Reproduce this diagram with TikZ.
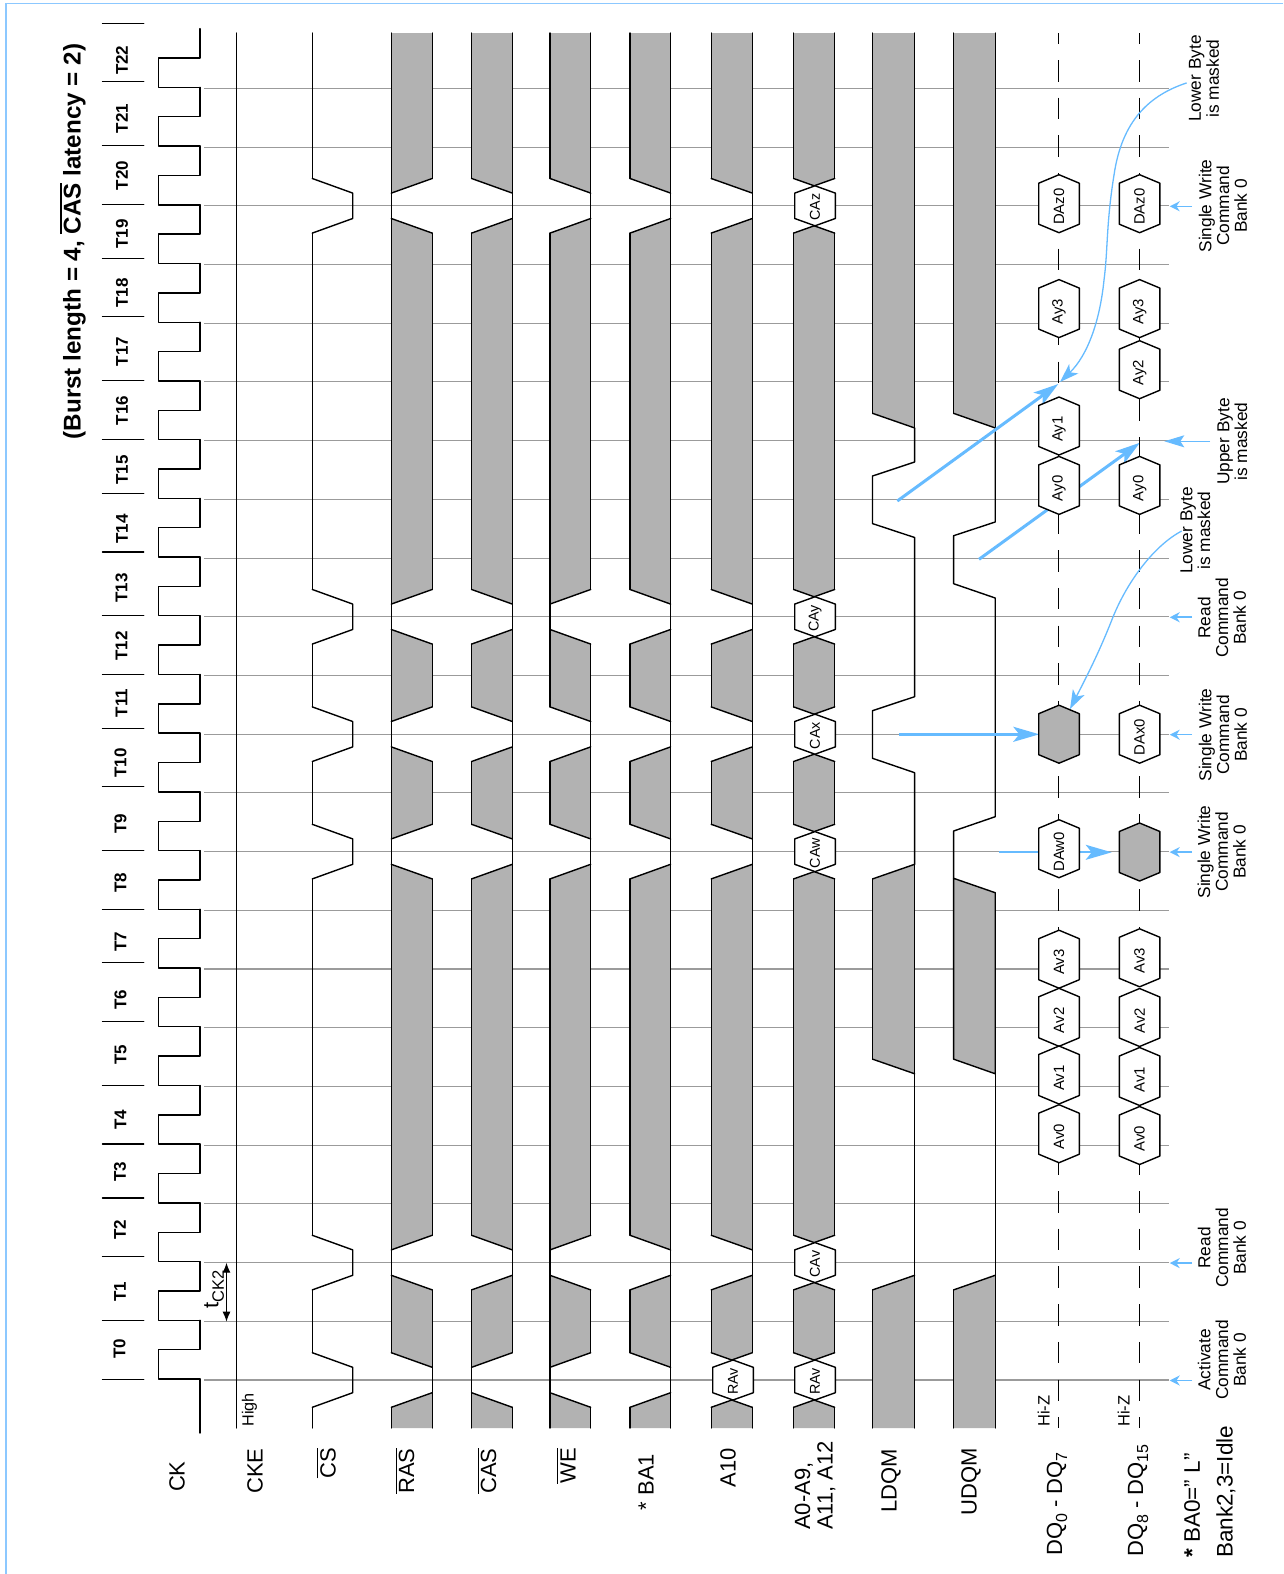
\documentclass[tikz,border=0pt]{standalone}
\usepackage{fontspec}
\setmainfont{Liberation Sans}
\usetikzlibrary{arrows.meta}
\definecolor{bluearrow}{RGB}{102,187,255}
\definecolor{framec}{RGB}{140,200,255}
\definecolor{sigfill}{RGB}{178,178,178}
\definecolor{gridc}{RGB}{155,155,155}
\newcommand\fs[1]{\fontsize{#1}{#1}\selectfont}
\newcommand\ovl[2][0.9pt]{\leavevmode\vbox{\hrule height #1\kern 2.2pt\hbox{#2}}}
\newcommand\upperY[2]{%
 \ifnum#1>22 \def\yUL{33}\def\yUM{33}\def\yUR{33}\else
 \pgfmathsetmacro\myYb{yk(#1)}%
 \ifcase#2
  \pgfmathsetmacro\yUL{\myYb+12.7}\pgfmathsetmacro\yUR{\myYb+27.3}\pgfmathsetmacro\yUM{\myYb+20}%
 \or
  \pgfmathsetmacro\yUL{\myYb+27.3}\pgfmathsetmacro\yUR{\myYb+12.7}\pgfmathsetmacro\yUM{\myYb+20}%
 \or
  \pgfmathsetmacro\yUL{\myYb+27.3}\pgfmathsetmacro\yUR{\myYb+27.3}\pgfmathsetmacro\yUM{\myYb+20}%
 \fi\fi}
\newcommand\lowerY[2]{%
 \ifnum#1<0 \def\yLL{1428}\def\yLM{1428}\def\yLR{1428}\else
 \pgfmathsetmacro\myYb{yk(#1)}%
 \ifcase#2
  \pgfmathsetmacro\yLL{\myYb-12.7}\pgfmathsetmacro\yLR{\myYb-27.3}\pgfmathsetmacro\yLM{\myYb-20}%
 \or
  \pgfmathsetmacro\yLL{\myYb-27.3}\pgfmathsetmacro\yLR{\myYb-12.7}\pgfmathsetmacro\yLM{\myYb-20}%
 \or
  \pgfmathsetmacro\yLL{\myYb-27.3}\pgfmathsetmacro\yLR{\myYb-27.3}\pgfmathsetmacro\yLM{\myYb-20}%
 \fi\fi}
% L R kUpper sideUpper kLower sideLower (side 0 left tip, 1 right tip, 2 hexagon)
\newcommand\graySeg[6]{%
 \upperY{#3}{#4}\lowerY{#5}{#6}%
 \pgfmathsetmacro\xM{(#1+#2)/2}%
 \fill[sigfill] (#1,\yUL)--(\xM,\yUM)--(#2,\yUR)--(#2,\yLR)--(\xM,\yLM)--(#1,\yLL)--cycle;
 \draw[sigline] (#1,\yUL)--(#1,\yLL) (#2,\yUR)--(#2,\yLR);
 \ifnum#3<23 \draw[sigline] (#1,\yUL)--(\xM,\yUM)--(#2,\yUR);\fi
 \ifnum#5>-1 \draw[sigline] (#1,\yLL)--(\xM,\yLM)--(#2,\yLR);\fi}
\newcommand\tipIf[4]{%
 \ifcase#4
  \draw[sigline] (#1,{yk(#3)+12.7})--(#1,{yk(#3)-12.7});
 \or
  \draw[sigline] (#2,{yk(#3)+12.7})--(#2,{yk(#3)-12.7});
 \fi}
% L R s0 s2 s9 s11 s13 s20
\newcommand\sigRow[8]{%
 \graySeg{#1}{#2}{23}{0}{20}{#8}\graySeg{#1}{#2}{20}{#8}{13}{#7}%
 \graySeg{#1}{#2}{13}{#7}{11}{#6}\graySeg{#1}{#2}{11}{#6}{9}{#5}%
 \graySeg{#1}{#2}{9}{#5}{2}{#4}\graySeg{#1}{#2}{2}{#4}{0}{#3}%
 \graySeg{#1}{#2}{0}{#3}{-1}{0}%
 \tipIf{#1}{#2}{0}{#3}\tipIf{#1}{#2}{2}{#4}\tipIf{#1}{#2}{9}{#5}%
 \tipIf{#1}{#2}{11}{#6}\tipIf{#1}{#2}{13}{#7}\tipIf{#1}{#2}{20}{#8}}
% name k xmid text
\newcommand\ahex[4]{%
 \draw[sigline,fill=white] ({#3-20.3},{yk(#2)+12.7})--(#3,{yk(#2)+20})--({#3+20.3},{yk(#2)+12.7})--({#3+20.3},{yk(#2)-12.7})--(#3,{yk(#2)-20})--({#3-20.3},{yk(#2)-12.7})--cycle;
 \node[hextext,font=\fs{14.3}] (#1) at (#3,{yk(#2)+1.5}) {#4};}
% name xmid ycentre fill text
\newcommand\dhex[5]{%
 \draw[sigline,fill=#4] ({#2-20.3},{#3+20.5})--(#2,{#3+29})--({#2+20.3},{#3+20.5})--({#2+20.3},{#3-20.5})--(#2,{#3-29})--({#2-20.3},{#3-20.5})--cycle;
 \node[hextext,font=\fs{14.9}] (#1) at (#2,{#3+3}) {#5};}
\begin{document}
\begin{tikzpicture}[x=1pt,y=-1pt,
 declare function={yk(\k)=1380-58.71*\k;},
 sigline/.style={black,line width=1.4pt,line cap=round,line join=round},
 gridl/.style={gridc,line width=1.1pt},
 hextext/.style={rotate=90,inner sep=0pt},
 lab/.style={rotate=90,inner sep=0pt,font=\fs{22}},
 cmd/.style={rotate=90,inner sep=0pt,align=center,font=\fontsize{17.3}{17.8}\selectfont},
 tlab/.style={rotate=90,inner sep=0pt,font=\fs{17}\bfseries},
 bsmall/.style={bluearrow,line width=1.6pt,-{Stealth[length=10pt,width=10pt]}},
 bcurve/.style={bluearrow,line width=1.3pt,-{Stealth[length=19pt,width=13pt,inset=5pt]}},
 bthick/.style={bluearrow,line width=3pt,-{Stealth[length=25pt,width=15pt,inset=6pt]}},
 bmid/.style={bluearrow,line width=2.2pt,-{Stealth[length=26pt,width=15pt,inset=6pt]}},
]
\useasboundingbox (0,0) rectangle (1283,1574);
\fill[white] (0,0) rectangle (1283,1574);
% frame
\draw[framec,line width=1.5pt] (6,1574)--(6,3.7)--(1283,3.7);
% grid
\foreach \k in {0,...,22} \draw[gridl] (204,{yk(\k)})--(1168.7,{yk(\k)});
% ticks
\foreach \y in {23.3,81.7,145.7,204.3,258.3,316.7,380.7,439.3,493.3,552,615.3,674.3,728.3,786.7,850.7,909.3,962.7,1021.7,1085.3,1144,1198,1256.7,1320.7,1379.3}
 \draw[sigline] (102.5,\y)--(143.7,\y);
% CK
\draw[sigline] (200,1433)--(200,1379);
\foreach \k in {0,...,22}
 \draw[sigline] (200,{yk(\k)-1})--(158.5,{yk(\k)-1})--(158.5,{yk(\k)-30.35})--(200,{yk(\k)-30.35})--(200,{yk(\k+1)-1});
% CKE
\draw[sigline] (236.6,33)--(236.6,1428);
% CS
\draw[sigline] (312.3,33)--(312.3,{yk(20)-27.3});
\foreach \k in {20,13,11,9,2,0}
 \draw[sigline] (312.3,{yk(\k)-27.3})--(352.7,{yk(\k)-12.7})--(352.7,{yk(\k)+12.7})--(312.3,{yk(\k)+27.3});
\foreach \a/\b in {20/13,13/11,11/9,9/2,2/0}
 \draw[sigline] (312.3,{yk(\a)+27.3})--(312.3,{yk(\b)-27.3});
\draw[sigline] (312.3,{yk(0)+27.3})--(312.3,1428);
% control signals
\sigRow{391.3}{432.2}{1}{0}{0}{0}{0}{0}
\sigRow{471.6}{512.3}{0}{1}{1}{1}{1}{1}
\sigRow{550}{590.7}{0}{0}{1}{1}{0}{1}
\sigRow{630}{670.6}{1}{1}{1}{1}{1}{1}
\sigRow{711.2}{752.3}{2}{1}{1}{1}{1}{1}
\sigRow{793.6}{834.7}{2}{2}{2}{2}{2}{2}
\ahex{ra10}{0}{733}{RAv}
\ahex{ra0}{0}{815}{RAv}
\ahex{cav}{2}{815}{CAv}
\ahex{caw}{9}{815}{CAw}
\ahex{cax}{11}{815}{CAx}
\ahex{cay}{13}{815}{CAy}
\ahex{caz}{20}{815}{CAz}
% LDQM
\graySeg{872.6}{914.6}{23}{0}{16}{1}
\graySeg{872.6}{914.6}{9}{1}{5}{1}
\graySeg{872.6}{914.6}{2}{1}{-1}{0}
\draw[sigline] (914.6,{yk(2)+12.7})--(914.6,{yk(5)-12.7});
\draw[sigline] (914.6,{yk(9)+12.7})--(914.6,772.7)--(872.5,758.3)--(872.5,710.7)--(914.6,696.7)--(914.6,537.5)--(872.5,523.6)--(872.5,476)--(914.6,462)--(914.6,{yk(16)-12.7});
% UDQM
\graySeg{953.6}{995.2}{23}{0}{16}{1}
\fill[sigfill] (953.6,878.3)--(995.2,892.7)--(995.2,{yk(5)-12.7})--(953.6,{yk(5)-27.3})--cycle;
\draw[sigline] (953.6,{yk(5)-27.3})--(953.6,878.3)--(995.2,892.7)--(995.2,{yk(5)-12.7})--cycle;
\graySeg{953.6}{995.2}{2}{1}{-1}{0}
\draw[sigline] (995.2,{yk(2)+12.7})--(995.2,{yk(5)-12.7});
\draw[sigline] (953.6,878.3)--(953.6,831)--(995.2,816.7)--(995.2,598)--(953.6,583.7)--(953.6,535.7)--(995.2,522)--(995.2,{yk(16)-12.7});
% thick blue arrows (under the data hexagons)
\coordinate (a1s) at (897.3,501);  \coordinate (a1e) at (1058.3,384);
\coordinate (a2s) at (979,559.3);  \coordinate (a2e) at (1140,442.7);
\coordinate (a3s) at (899.3,734.3); \coordinate (a3e) at (1039.3,734.3);
\coordinate (a4s) at (999,852.3);  \coordinate (a4e) at (1111.7,852.3);
\draw[bthick] (a1s)--(a1e);
\draw[bthick] (a2s)--(a2e);
\draw[bmid,line width=2.6pt] (a3s)--(a3e);
\draw[bmid,line width=2pt] (a4s)--(a4e);
% data lines
\begin{scope}
\clip (1020,33) rectangle (1180,1428);
\draw[black,line width=1.5pt,dash pattern=on 21.5pt off 16.2pt] (1058.5,22.3)--(1058.5,1428);
\draw[black,line width=1.5pt,dash pattern=on 21.5pt off 16.2pt] (1139.5,22.3)--(1139.5,1428);
\end{scope}
% DQ0-7
\dhex{d0z}{1059}{203.7}{white}{DAz0}
\dhex{d0y3}{1059}{308.6}{white}{Ay3}
\dhex{d0y1}{1059}{426}{white}{Ay1}
\dhex{d0y0}{1059}{485.4}{white}{Ay0}
\dhex{d0x}{1059}{734.2}{sigfill}{}
\dhex{d0w}{1059}{848.7}{white}{DAw0}
\dhex{d0v3}{1059}{959.2}{white}{Av3}
\dhex{d0v2}{1059}{1017.3}{white}{Av2}
\dhex{d0v1}{1059}{1075}{white}{Av1}
\dhex{d0v0}{1059}{1133.7}{white}{Av0}
% DQ8-15
\dhex{d8z}{1139.6}{203.7}{white}{DAz0}
\dhex{d8y3}{1139.6}{308.6}{white}{Ay3}
\dhex{d8y2}{1139.6}{369.7}{white}{Ay2}
\dhex{d8y0}{1139.6}{485.4}{white}{Ay0}
\dhex{d8x}{1139.6}{734.2}{white}{DAx0}
\dhex{d8w}{1139.6}{852}{sigfill}{}
\dhex{d8v3}{1139.6}{957.8}{white}{Av3}
\dhex{d8v2}{1139.6}{1017.5}{white}{Av2}
\dhex{d8v1}{1139.6}{1076.5}{white}{Av1}
\dhex{d8v0}{1139.6}{1135.5}{white}{Av0}
% thin blue curves
\coordinate (c1s) at (1186.7,82.9); \coordinate (c1e) at (1060,382);
\coordinate (c2s) at (1181.7,531);  \coordinate (c2e) at (1070,709);
\draw[bcurve] (c1s) .. controls (1150,95) and (1122,120) .. (1114,175) .. controls (1106,225) and (1108,250) .. (1104,280) .. controls (1100,320) and (1088,355) .. (c1e);
\draw[bcurve] (c2s) .. controls (1155,545) and (1128,580) .. (1113,617) .. controls (1100,650) and (1090,670) .. (c2e);
% command pointers
\foreach \k/\n in {0/p0,2/p2,9/p9,11/p11,13/p13,20/p20}{
 \coordinate (\n s) at (1192,{yk(\k)+0.5});
 \coordinate (\n e) at (1169.7,{yk(\k)+0.5});
 \draw[bsmall] (\n s)--(\n e);}
\coordinate (us) at (1210,441.3); \coordinate (ue) at (1164.3,441.3);
\draw[bluearrow,line width=1.4pt,-{Stealth[length=20pt,width=12pt,inset=4pt]}] (us)--(ue);
% tCK
\coordinate (t1) at (226.5,1262.7); \coordinate (t2) at (226.5,1321.7);
\draw[black,line width=1.3pt,{Latex[length=10pt,width=8pt]}-{Latex[length=10pt,width=8pt]}] (t1)--(t2);
\node[rotate=90,inner sep=0pt] (tck) at (214,1289.5) {\fs{22}t\raisebox{-5.5pt}{\fs{16.5}CK2}};
% title
\node[rotate=90,inner sep=0pt,font=\fs{24.2}\bfseries] (title) at (73,241.5) {(Burst length = 4, \ovl[1.5pt]{CAS} latency = 2)};
% T labels
\foreach \i/\y/\x in {0/1348.7/119.5,1/1292/120,2/1230/120,3/1171.7/120,4/1119.5/120.5,5/1055/120.5,6/1000/120.5,7/942/120.5,8/882.5/120.5,9/824/120.5,10/763/120.5,11/703/121.5,12/646/121.5,13/588/121.5,14/529/122,15/470/122,16/410.6/122,17/351.4/122,18/293/122,19/234/122,20/175.7/122,21/118.5/122,22/60.2/122}
 \node[tlab] (T\i) at (\x,\y) {T\i};
% left labels
\node[lab] (nck) at (177,1476.7) {CK};
\node[lab] (ncke) at (255,1471) {CKE};
\node[lab] (ncs) at (326.5,1463) {\ovl{CS}};
\node[lab] (nras) at (405,1471) {\ovl{RAS}};
\node[lab] (ncas) at (487,1471) {\ovl{CAS}};
\node[lab] (nwe) at (566.5,1466) {\ovl{WE}};
\node[lab] (nba) at (646,1482) {* BA1};
\node[lab] (na10) at (728,1467.5) {A10};
\node[rotate=90,inner sep=0pt,align=left,anchor=west,font=\fontsize{22}{22.5}\selectfont] (naddr) at (815,1530) {A0-A9,\\A11, A12};
\node[lab] (nl) at (891,1481) {LDQM};
\node[lab] (nu) at (971,1482) {UDQM};
\node[lab,anchor=west,font=\fs{22}] (ndq0) at (1057,1556) {DQ\raisebox{-5pt}{\fs{16}0} - DQ\raisebox{-5pt}{\fs{16}7}};
\node[lab,anchor=west,font=\fs{22}] (ndq8) at (1138,1557) {DQ\raisebox{-5pt}{\fs{16}8} - DQ\raisebox{-5pt}{\fs{16}15}};
\node[lab,anchor=west,font=\fs{22.5}] (nba0) at (1192,1558) {\textbf{*} BA0=” L”};
\node[lab,anchor=west,font=\fs{22.5}] (nbank) at (1226,1558) {Bank2,3=Idle};
\node[rotate=90,inner sep=0pt,font=\fs{16.2}] (nhigh) at (249.5,1410) {High};
\node[rotate=90,inner sep=0pt,font=\fs{16.5}] (nhz0) at (1043.7,1411) {Hi-Z};
\node[rotate=90,inner sep=0pt,font=\fs{16.5}] (nhz8) at (1123.6,1411) {Hi-Z};
% right labels
\node[cmd] (l0) at (1222,1360) {Activate\\Command\\Bank 0};
\node[cmd] (l2) at (1222,1248) {Read\\Command\\Bank 0};
\node[cmd] (l9) at (1221.7,852) {Single Write\\Command\\Bank 0};
\node[cmd] (l11) at (1223,735) {Single Write\\Command\\Bank 0};
\node[cmd] (l13) at (1222,618) {Read\\Command\\Bank 0};
\node[cmd] (l20) at (1223,206) {Single Write\\Command\\Bank 0};
\node[cmd] (lb1) at (1204,78.5) {Lower Byte\\is masked};
\node[cmd] (lb2) at (1195.3,530.5) {Lower Byte\\is masked};
\node[cmd] (ub) at (1232.3,441.5) {Upper Byte\\is masked};
\end{tikzpicture}
\end{document}
